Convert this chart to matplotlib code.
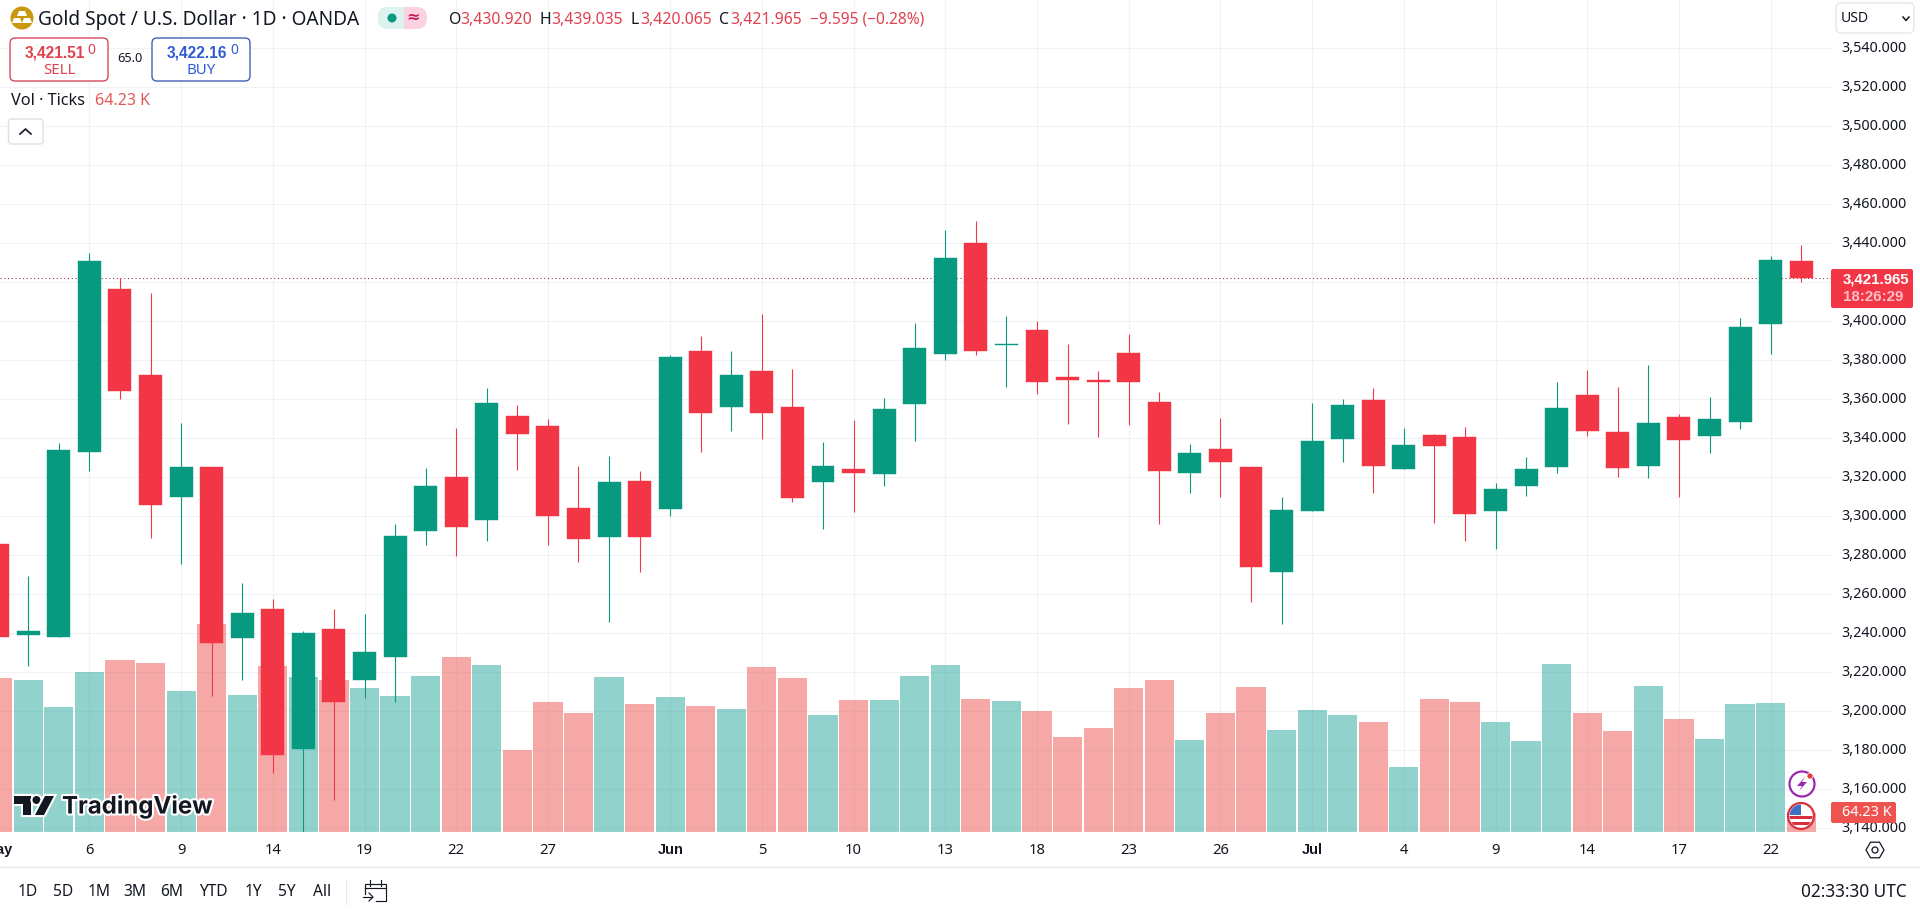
import numpy as np
import matplotlib
matplotlib.use('Agg')
import matplotlib.pyplot as plt
from matplotlib.patches import Circle, FancyBboxPatch, Polygon, Rectangle
import matplotlib.patheffects as pe

plt.rcParams['font.family'] = ['Noto Sans', 'DejaVu Sans']

# daily candles, May 1 to Jul 23
opens = [3285.8, 3239.3, 3238.3, 3333.2, 3416.5, 3372.4, 3310.0, 3325.3, 3237.8, 3252.5,
         3180.9, 3242.2, 3215.9, 3228.0, 3292.6, 3320.1, 3297.9, 3351.4, 3346.2, 3304.2,
         3289.5, 3318.2, 3303.5, 3384.7, 3356.0, 3374.4, 3356.0, 3317.8, 3324.2, 3321.9,
         3357.7, 3383.4, 3440.1, 3387.8, 3395.6, 3371.3, 3369.8, 3383.6, 3358.5, 3322.4,
         3334.5, 3325.3, 3271.7, 3302.9, 3339.7, 3359.6, 3324.0, 3341.6, 3340.6, 3302.5,
         3315.7, 3325.5, 3362.1, 3343.3, 3325.9, 3350.8, 3341.4, 3348.5, 3398.7, 3430.92]
highs = [3290.0, 3269.4, 3337.4, 3434.9, 3421.9, 3414.4, 3347.9, 3325.3, 3265.9, 3257.5,
         3241.2, 3252.5, 3250.0, 3295.8, 3324.7, 3345.2, 3365.7, 3357.1, 3349.8, 3325.7,
         3331.1, 3323.0, 3382.6, 3392.4, 3384.7, 3403.7, 3375.5, 3338.0, 3349.3, 3360.6,
         3399.1, 3446.8, 3451.4, 3402.9, 3400.2, 3388.3, 3374.4, 3393.5, 3363.8, 3337.0,
         3350.4, 3325.3, 3310.0, 3358.1, 3360.0, 3365.7, 3345.2, 3342.2, 3345.8, 3317.1,
         3330.3, 3368.8, 3375.1, 3366.3, 3377.6, 3352.5, 3361.1, 3401.4, 3433.4, 3439.035]
lows = [3235.0, 3223.4, 3238.3, 3323.0, 3360.2, 3288.9, 3275.3, 3207.9, 3216.3, 3168.6,
        3138.0, 3154.6, 3206.9, 3205.0, 3285.3, 3279.9, 3287.4, 3323.8, 3285.3, 3276.7,
        3246.0, 3271.7, 3300.4, 3333.2, 3343.9, 3339.7, 3307.5, 3293.7, 3302.3, 3315.7,
        3338.7, 3379.9, 3382.6, 3366.3, 3362.7, 3347.5, 3340.8, 3347.0, 3295.8, 3311.9,
        3310.0, 3256.2, 3244.9, 3302.9, 3328.0, 3312.1, 3324.0, 3296.8, 3287.4, 3283.0,
        3310.6, 3322.4, 3341.4, 3320.1, 3319.8, 3310.0, 3332.2, 3344.9, 3383.2, 3420.065]
closes = [3238.3, 3241.2, 3334.1, 3430.9, 3364.0, 3306.0, 3325.3, 3235.3, 3250.4, 3177.8,
          3240.1, 3204.6, 3230.5, 3289.9, 3315.5, 3294.7, 3358.1, 3342.4, 3300.4, 3288.5,
          3317.5, 3289.5, 3381.6, 3353.1, 3372.4, 3352.7, 3309.6, 3325.7, 3322.4, 3355.0,
          3386.2, 3432.4, 3384.9, 3388.3, 3369.0, 3370.1, 3368.6, 3369.0, 3323.4, 3332.4,
          3327.6, 3274.2, 3303.3, 3338.7, 3357.1, 3325.9, 3336.6, 3336.2, 3301.4, 3314.0,
          3324.2, 3355.4, 3343.5, 3324.9, 3347.9, 3338.9, 3349.8, 3397.0, 3431.3, 3421.965]
# volume in thousands of ticks
volumes = [520, 513, 422, 541, 581, 571, 476, 704, 462, 560,
           523, 513, 486, 459, 527, 590, 564, 277, 439, 401,
           523, 432, 455, 425, 415, 557, 520, 395, 446, 446,
           527, 564, 448, 443, 408, 320, 350, 486, 513, 310,
           401, 490, 345, 412, 395, 371, 219, 448, 439, 371,
           308, 567, 401, 341, 493, 381, 313, 432, 436, 64.23]
# colour of the volume bar, 1 = up day
vol_up = [0, 1, 1, 1, 0, 0, 1, 0, 1, 0, 1, 0, 1, 1, 1, 0, 1, 0, 0, 0,
          1, 0, 1, 0, 1, 0, 0, 1, 0, 1, 1, 1, 0, 1, 0, 0, 0, 0, 0, 1,
          0, 0, 1, 1, 1, 0, 1, 0, 0, 1, 1, 1, 0, 0, 1, 0, 1, 1, 1, 0]

date_idx = [0, 3, 6, 9, 12, 15, 18, 22, 25, 28, 31, 34, 37, 40, 43, 46, 49, 52, 55, 58]
date_labels = ['May', '6', '9', '14', '19', '22', '27', 'Jun', '5', '10', '13', '18', '23', '26',
               'Jul', '4', '9', '14', '17', '22']
price_ticks = list(range(3140, 3560, 20))
range_buttons = ['1D', '5D', '1M', '3M', '6M', 'YTD', '1Y', '5Y', 'All']
range_x = [28, 63, 99, 135, 172, 213, 253, 287, 322]

UP = '#089981'
DOWN = '#F23645'
GRID = '#F1F2F5'
INK = '#131722'
BOLD = 'Liberation Sans'

W, H = 1920, 911
PLOT_R, PLOT_B = 1833, 832
XLIM = (0.0756, 60.04)
YLIM = (3138.2, 3564.6)

fig = plt.figure(figsize=(W / 100, H / 100), dpi=100, facecolor='white')
ax = fig.add_axes([0, 1 - PLOT_B / H, PLOT_R / W, PLOT_B / H])
ax.set_xticks([])
ax.set_yticks([])
ax.set_xlim(XLIM)
ax.set_ylim(YLIM)
ax.set_zorder(2)
ax.patch.set_alpha(0)
for s in ax.spines.values():
    s.set_visible(False)

# grid and volume sit behind the candles
back = fig.add_axes(ax.get_position(), zorder=1)
back.set_xlim(XLIM)
back.set_ylim(0, 2812)
back.axis('off')
ax2 = back.twinx()
ax2.set_ylim(YLIM)
ax2.axis('off')
for p in price_ticks:
    ax2.axhline(p, color=GRID, lw=0.8, zorder=0)
for d in date_idx:
    ax2.axvline(d, color=GRID, lw=0.8, zorder=0)
ax2.set_zorder(0)
back.set_zorder(1)
x = np.arange(len(opens))
vol_colors = ['#26A69A' if u else '#EF5350' for u in vol_up]
back.bar(x, volumes, width=0.955, color=vol_colors, alpha=0.5, linewidth=0)

for i in x:
    o, h, l, c = opens[i], highs[i], lows[i], closes[i]
    col = UP if c >= o else DOWN
    ax.vlines(i, l, h, color=col, lw=0.8, zorder=3)
    ax.bar(i, abs(c - o), bottom=min(o, c), width=0.75, color=col, edgecolor=col, linewidth=0.3, zorder=4)

ax.axhline(closes[-1], color='#8E2A38', lw=0.75, ls=(0, (1, 2.6)), zorder=2)

# interface chrome, in pixel coordinates
ui = fig.add_axes([0, 0, 1, 1], zorder=5)
ui.set_xlim(0, W)
ui.set_ylim(H, 0)
ui.axis('off')
ui.patch.set_alpha(0)


def label(px, py, s, size=13.5, color=INK, ha='left', **kw):
    return ui.text(px, py, s, fontsize=size * 0.72, color=color, ha=ha, va='center', **kw)


def box(x0, y0, x1, y1, fc='white', ec='none', r=5, lw=1, z=2):
    p = FancyBboxPatch((x0, y0), x1 - x0, y1 - y0, boxstyle='round,pad=0,rounding_size=%g' % r,
                       fc=fc, ec=ec, lw=lw, zorder=z)
    ui.add_patch(p)
    return p


# axis strip right of the plot and below it
ui.add_patch(Rectangle((PLOT_R, 0), W - PLOT_R, PLOT_B, fc='white', ec='none', zorder=0.5))
ui.plot([0, W], [867, 867], color='#E6E8EC', lw=0.9, zorder=1)
ui.plot([346, 346], [880, 904], color='#E6E8EC', lw=0.9, zorder=1)

for p in price_ticks:
    py = 321.2 - (p - 3400) * 1.951
    if py < 40:
        continue
    label(1907, py, '{:,.3f}'.format(p), ha='right', size=14.4, zorder=2)

for d, s in zip(date_idx, date_labels):
    px = 89.4 + (d - 3) * 30.57
    if s in ('May', 'Jun', 'Jul'):
        label(px, 850, s, ha='center', size=14.5, family=BOLD, fontweight='bold')
    else:
        label(px, 850, s, ha='center', size=14.8)

for s, px in zip(range_buttons, range_x):
    label(px, 892, s, ha='center', size=15.5)
label(1907, 892, '02:33:30 UTC', ha='right', size=17.2)

# calendar icon
ui.plot([365, 365, 386, 386, 376], [894, 884, 884, 901, 901], color=INK, lw=0.85, zorder=2)
ui.plot([365, 386], [888, 888], color=INK, lw=0.85, zorder=2)
ui.plot([370, 370], [880, 886], color=INK, lw=0.85, zorder=2)
ui.plot([381, 381], [880, 886], color=INK, lw=0.85, zorder=2)
ui.plot([363, 372], [897, 897], color=INK, lw=0.85, zorder=2)
ui.plot([369, 373, 369], [893, 897, 901], color=INK, lw=0.85, zorder=2)

# settings hexagon
ang = np.radians(np.arange(0, 360, 60))
ui.add_patch(Polygon(np.c_[1875 + 9 * np.cos(ang), 850 + 9 * np.sin(ang)], closed=True, fc='none', ec=INK, lw=0.9))
ui.add_patch(Circle((1875, 850), 3, fc='none', ec=INK, lw=0.9))

# USD selector
box(1836, 3, 1914, 33, ec='#E6E8EC')
label(1840.5, 19, 'USD', size=14)
ui.plot([1903, 1906, 1909], [17, 20.5, 17], color=INK, lw=1.1, zorder=3)

# last price tags
box(1831, 269, 1913, 308, fc=DOWN, r=2)
label(1842.5, 279, '3,421.965', color='white', family=BOLD, fontweight='bold', size=15, zorder=3)
label(1842.5, 297, '18:26:29', color='#FBC0C6', family=BOLD, fontweight='bold', size=15, zorder=3)
box(1831, 802, 1896, 823, fc='#EF5350', r=2)
label(1842, 812.5, '64.23 K', color='white', size=14.5, zorder=3)

# header
ui.add_patch(Circle((22, 18), 11.5, fc='#C9980F', ec='none', zorder=2))
for cx, cy in [(22, 14), (17, 21), (27, 21)]:
    ui.add_patch(Polygon([(cx - 3, cy - 3), (cx + 3, cy - 3), (cx + 5, cy + 2), (cx - 5, cy + 2)],
                         closed=True, fc='white', ec='none', zorder=3))
label(38, 20, 'Gold Spot / U.S. Dollar · 1D · OANDA', size=19.1)

box(378, 7, 427, 29, fc='#FDD2E0', r=10)
ui.add_patch(FancyBboxPatch((378, 7), 24, 22, boxstyle='round,pad=0,rounding_size=10', fc='#DDF3F0', ec='none', zorder=2.5))
ui.add_patch(Rectangle((392, 7), 12, 22, fc='#DDF3F0', ec='none', zorder=2.5))
ui.add_patch(Circle((392, 18), 4.5, fc=UP, ec='none', zorder=3))
label(413, 18, '≈', color='#C2185B', ha='center', size=16, fontweight='bold', zorder=3)

RED_TXT = '#E0414F'
for px, off, pre, s in [(449, 11, 'O', '3,430.920'), (539.5, 11.5, 'H', '3,439.035'),
                        (631, 9, 'L', '3,420.065'), (719.5, 10.5, 'C', '3,421.965')]:
    label(px, 20, pre, size=15.8)
    label(px + off, 20, s, color=RED_TXT, size=15.8)
label(809.5, 20, '−9.595 (−0.28%)', color=RED_TXT, size=15.5)

box(10, 38, 108, 81, ec='#D64A5C')
label(25, 52.5, '3,421.51', color=RED_TXT, family=BOLD, fontweight='bold', size=15.5)
label(87.5, 50, '0', color=RED_TXT, size=14)
label(59, 70, 'SELL', color=RED_TXT, ha='center', size=15)
label(130, 59, '65.0', ha='center', size=12.8)
box(152, 38, 250, 81, ec='#3F62B8')
label(167, 52.5, '3,422.16', color='#2F5BD0', family=BOLD, fontweight='bold', size=15.5)
label(230, 50, '0', color='#2F5BD0', size=14)
label(201, 70, 'BUY', color='#2F5BD0', ha='center', size=15)

label(11, 101, 'Vol · Ticks', size=16.3)
label(95, 101, '64.23 K', color='#E05A5A', size=16)

box(8.5, 119, 43, 144, ec='#DDE0E6', r=3)
ui.plot([20, 25.5, 31], [134, 129, 134], color=INK, lw=1.2, zorder=3)

# watermark
halo = [pe.withStroke(linewidth=3, foreground='white')]
logo = [Polygon([(14, 796), (31, 796), (31, 815), (23, 815), (23, 804), (14, 804)], closed=True),
        Circle((36.5, 800), 4),
        Polygon([(45, 796), (54, 796), (44, 815), (35, 815)], closed=True)]
for shape in logo:
    shape.set(fc='#131722', ec='none', zorder=3, path_effects=halo)
    ui.add_patch(shape)
label(62, 807, 'TradingView', size=24, color='#131722', fontweight='bold',
      family='Inter', path_effects=halo, zorder=3)

# side icons over the last bar
ui.add_patch(Circle((1802, 784), 12.5, fc='white', ec='#9C27B0', lw=1.6, zorder=3))
ui.add_patch(Polygon([(1805, 777), (1797, 786), (1802, 786), (1799, 791), (1807, 782), (1802, 782)],
                     closed=True, fc='#9C27B0', ec='none', zorder=4))
ui.add_patch(Circle((1810, 776), 3, fc='#E53935', ec='white', lw=0.5, zorder=5))

ring = Circle((1801, 816), 13, fc='white', ec='#D9303E', lw=1.6, zorder=3)
ui.add_patch(ring)
clip = Circle((1801, 816), 11.5, transform=ui.transData)
for yy in (816, 822):
    r = Rectangle((1788, yy), 26, 3, fc='#D9303E', ec='none', zorder=4)
    ui.add_patch(r)
    r.set_clip_path(clip)
canton = Rectangle((1788, 803), 13, 12, fc='#3F6FC4', ec='none', zorder=5)
ui.add_patch(canton)
canton.set_clip_path(clip)

fig.savefig('out.png', dpi=100)
